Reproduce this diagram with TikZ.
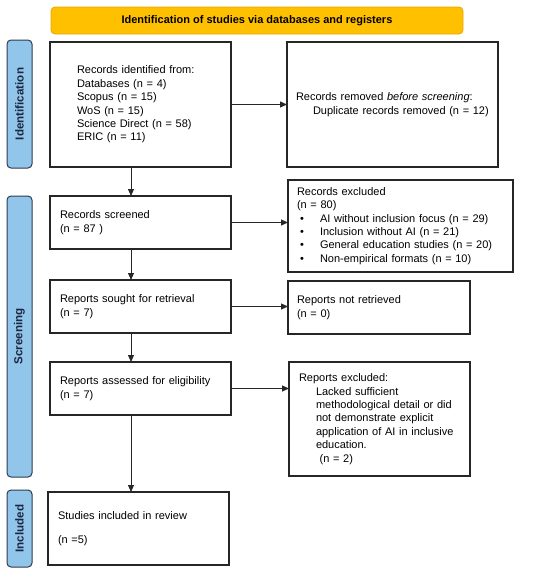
\documentclass[tikz,border=0pt]{standalone}
\usepackage{fontspec}
\setmainfont{Liberation Sans}
\usetikzlibrary{arrows.meta,calc}
\definecolor{boxline}{HTML}{262626}
\definecolor{sideblue}{HTML}{92C5EA}
\definecolor{sideline}{HTML}{2E3B4E}
\definecolor{sidetxt}{HTML}{1B2640}
\definecolor{bannerfill}{HTML}{FFC000}
\definecolor{bannerline}{HTML}{E8A800}
\begin{document}
\begin{tikzpicture}[x=1pt,y=-1pt,
  font=\fontsize{11}{13.4}\selectfont,
  box/.style={draw=boxline,line width=1.2pt,fill=white,align=left,anchor=north west,inner ysep=0pt,outer sep=0pt},
  side/.style={draw=sideline,fill=sideblue,line width=1pt,rounded corners=4pt,rotate=90,anchor=center,inner sep=0pt,
    minimum height=25pt,font=\fontsize{11.6}{13}\selectfont\bfseries,text=sidetxt},
  banner/.style={draw=bannerline,fill=bannerfill,line width=0.8pt,rounded corners=4pt,anchor=center,inner sep=0pt,
    minimum height=27pt,font=\fontsize{11}{13}\selectfont\bfseries},
  arr/.style={-{Triangle[length=7pt,width=6pt]},line width=1pt,boxline}]
\useasboundingbox (0,0) rectangle (550,573);

% banner and side bars
\node[banner,minimum width=412pt] (ban) at (257,20.5) {Identification of studies via databases and registers};
\node[side,minimum width=128pt] (sid) at (19.5,104) {Identification};
\node[side,minimum width=281pt] (sscr) at (19.5,336.5) {Screening};
\node[side,minimum width=77pt] (sinc) at (19.5,528.5) {Included};

% left column
\node[box,text width=127pt,inner xsep=27pt,minimum height=125pt] (ident) at (50,42)
  {Records identified from:\\Databases (n = 4)\\Scopus (n = 15)\\WoS (n = 15)\\Science Direct (n = 58)\\ERIC (n = 11)};
\node[box,text width=161pt,inner xsep=10pt,minimum height=53pt] (scr) at (50,196)
  {Records screened\\(n = 87 )};
\node[box,text width=161pt,inner xsep=10pt,minimum height=53pt] (sought) at (50,280)
  {Reports sought for retrieval\\(n = 7)};
\node[box,text width=161pt,inner xsep=10pt,minimum height=53pt] (assess) at (50,362)
  {Reports assessed for eligibility\\(n = 7)};
\node[box,text width=161pt,inner xsep=10pt,minimum height=73pt] (incl) at (48,492)
  {Studies included in review\\[10pt](n =5)};

% right column
\node[box,text width=193pt,inner xsep=9pt,minimum height=125pt] (removed) at (287,42)
  {Records removed \textit{before screening}:\\\hspace*{17pt}Duplicate records removed (n = 12)};
\node[box,text width=207pt,inner xsep=9pt,minimum height=92pt] (excl) at (288,180)
  {Records excluded\\(n = 80)\\
   \hspace*{3pt}\makebox[20pt][l]{\textbullet}AI without inclusion focus (n = 29)\\
   \hspace*{3pt}\makebox[20pt][l]{\textbullet}Inclusion without AI (n = 21)\\
   \hspace*{3pt}\makebox[20pt][l]{\textbullet}General education studies (n = 20)\\
   \hspace*{3pt}\makebox[20pt][l]{\textbullet}Non-empirical formats (n = 10)};
\node[box,text width=164pt,inner xsep=9pt,minimum height=53pt] (notret) at (288,281)
  {Reports not retrieved\\(n = 0)};
\node[box,text width=161pt,inner xsep=10pt,minimum height=114pt] (repex) at (289,362)
  {Reports excluded:\\
   \hspace*{17pt}Lacked sufficient\\
   \hspace*{17pt}methodological detail or did\\
   \hspace*{17pt}not demonstrate explicit\\
   \hspace*{17pt}application of AI in inclusive\\
   \hspace*{17pt}education.\\
   \hspace*{17pt}\ (n = 2)};

% connectors
\coordinate (axis) at (131,0);
\draw[arr] (ident.south -| axis) -- (scr.north -| axis);
\draw[arr] (scr.south -| axis) -- (sought.north -| axis);
\draw[arr] (sought.south -| axis) -- (assess.north -| axis);
\draw[arr] (assess.south -| axis) -- (incl.north -| axis);

\draw[arr] (ident.east) -- (ident.east -| removed.west);
\draw[arr] (scr.east) -- (scr.east -| excl.west);
\draw[arr] (sought.east) -- (sought.east -| notret.west);
\draw[arr] (assess.east) -- (assess.east -| repex.west);
\end{tikzpicture}
\end{document}
